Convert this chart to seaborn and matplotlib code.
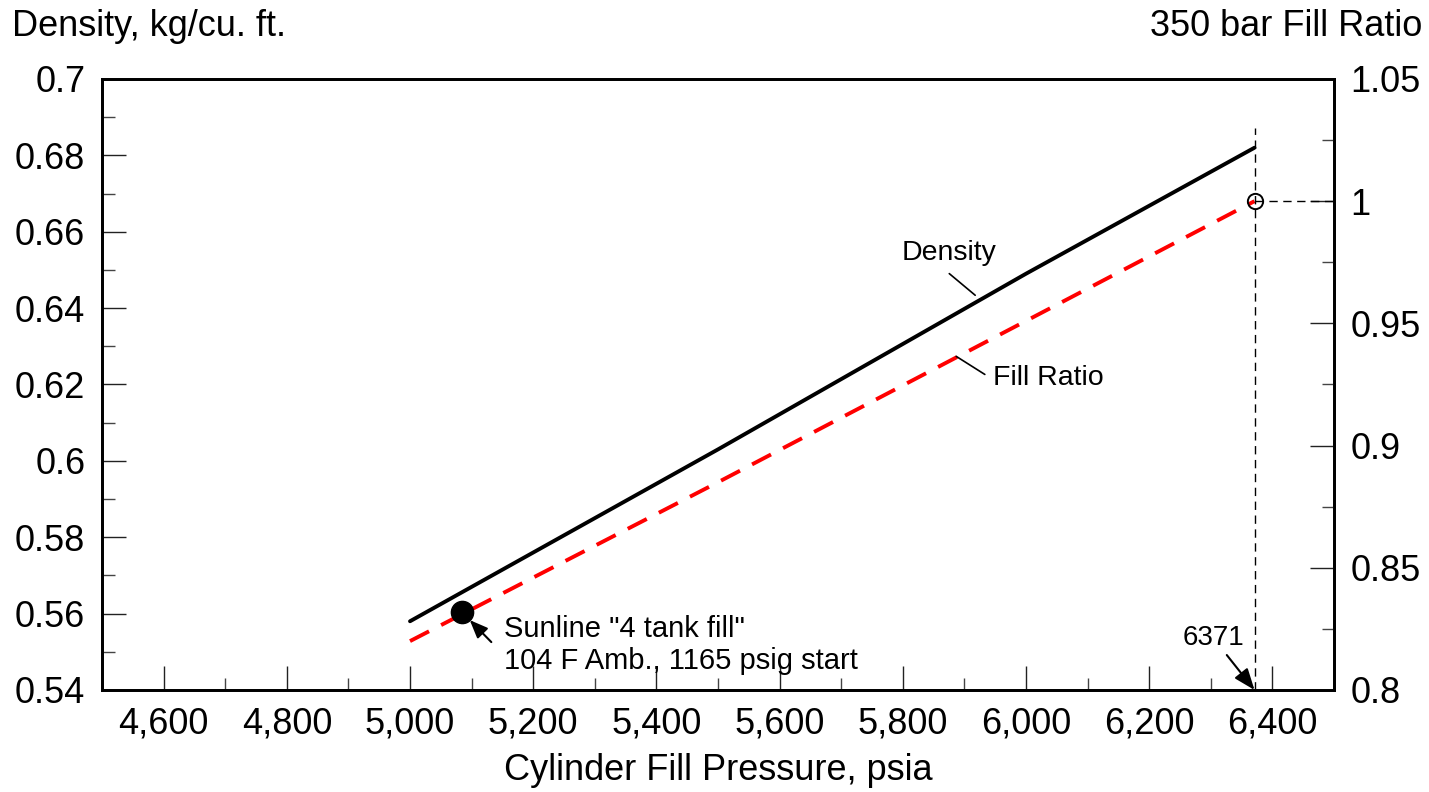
"""Cylinder fill density and fill ratio versus fill pressure."""

import matplotlib
matplotlib.use("Agg")
import matplotlib.pyplot as plt
from matplotlib.ticker import FuncFormatter, MultipleLocator
import pandas as pd
import seaborn as sns

# Data
pressure = [5000, 5500, 6000, 6371]
density = [0.558, 0.603, 0.649, 0.682]
fill_ratio = [0.820, 0.885, 0.951, 1.000]

sunline_pressure = [5085]
sunline_ratio = [0.832]

target_pressure = 6371
target_ratio = 1.0

x_ticks = [4600, 4800, 5000, 5200, 5400, 5600, 5800, 6000, 6200, 6400]
left_ticks = [0.54, 0.56, 0.58, 0.6, 0.62, 0.64, 0.66, 0.68, 0.7]
right_ticks = [0.8, 0.85, 0.9, 0.95, 1.0, 1.05]


def short_number(value: float, _: int) -> str:
  """Format without trailing zeros."""
  return f"{value:g}"


def thousands(value: float, _: int) -> str:
  """Format with thousands separator."""
  return f"{value:,.0f}"


sns.set_style("white")
plt.rcParams["font.family"] = ["Liberation Sans", "DejaVu Sans"]
plt.rcParams["text.color"] = "black"
plt.rcParams["axes.labelcolor"] = "black"
plt.rcParams["xtick.color"] = "black"
plt.rcParams["ytick.color"] = "black"

frame = pd.DataFrame({
  "pressure": pressure,
  "density": density,
  "fill_ratio": fill_ratio,
})

fig = plt.figure(figsize=(14.29, 7.92), dpi=100)
ax = fig.add_axes([0.0714, 0.1288, 0.8621, 0.7715])
ax2 = ax.twinx()

sns.lineplot(frame, x="pressure", y="density", color="black",
             linewidth=2.8, ax=ax)
sns.lineplot(frame, x="pressure", y="fill_ratio", color="#ff0000",
             linewidth=2.8, linestyle=(0, (5.5, 3.5)), ax=ax2)

# Sunline data point
ax2.plot(sunline_pressure, sunline_ratio, "o", color="black",
         markersize=16, zorder=5)

# Rated fill point with guide lines
ax2.plot([target_pressure], [target_ratio], "o", markersize=11,
         markerfacecolor="none", markeredgecolor="black",
         markeredgewidth=1.4, zorder=5)
ax2.plot([target_pressure, target_pressure], [0.8, 1.03], color="black",
         linewidth=1, linestyle=(0, (6, 4)))
ax2.plot([target_pressure, 6500], [target_ratio, target_ratio],
         color="black", linewidth=1, linestyle=(0, (6, 4)))

# Axis limits and ticks
ax.set_xlim(4500, 6500)
ax.set_ylim(0.54, 0.7)
ax2.set_ylim(0.8, 1.05)
ax.set_xticks(x_ticks)
ax.set_yticks(left_ticks)
ax2.set_yticks(right_ticks)
ax.xaxis.set_minor_locator(MultipleLocator(100))
ax.yaxis.set_minor_locator(MultipleLocator(0.01))
ax2.yaxis.set_minor_locator(MultipleLocator(0.025))
ax.xaxis.set_major_formatter(FuncFormatter(thousands))
ax.yaxis.set_major_formatter(FuncFormatter(short_number))
ax2.yaxis.set_major_formatter(FuncFormatter(short_number))

for axis in (ax, ax2):
  axis.tick_params(which="major", direction="in", length=17, width=1,
                   labelsize=26, pad=12, color="#222222")
  axis.tick_params(which="minor", direction="in", length=9, width=1,
                   color="#444444")
  for spine in axis.spines.values():
    spine.set_linewidth(2)
    spine.set_color("black")
ax.tick_params(axis="y", which="both", left=True, right=False)
ax.tick_params(axis="x", which="both", bottom=True, top=False, pad=12)
ax2.tick_params(axis="y", which="both", right=True, left=False)

ax.set_xlabel("Cylinder Fill Pressure, psia", fontsize=26, labelpad=8)
ax.set_ylabel("")
ax2.set_ylabel("")

fig.text(0.0084, 0.966, "Density, kg/cu. ft.", fontsize=26,
         ha="left", va="center")
fig.text(0.9951, 0.966, "350 bar Fill Ratio", fontsize=26,
         ha="right", va="center")

# Line labels with leader lines
ax.text(5875, 0.6544, "Density", fontsize=20.5, ha="center", va="center")
ax.annotate("", xy=(5921, 0.6429), xytext=(5872, 0.6495),
            arrowprops={"arrowstyle": "-", "color": "black", "lw": 1.2})
ax2.text(6037, 0.9277, "Fill Ratio", fontsize=20.5, ha="center",
         va="center")
ax2.annotate("", xy=(5883, 0.9371), xytext=(5937, 0.9285),
             arrowprops={"arrowstyle": "-", "color": "black", "lw": 1.2})

# Sunline note
ax2.text(5153, 0.8184, 'Sunline "4 tank fill"\n104 F Amb., 1165 psig start',
         fontsize=21, ha="left", va="center", linespacing=1.2)
ax2.annotate("", xy=(5097, 0.8286), xytext=(5132, 0.8196),
             arrowprops={"arrowstyle": "-|>,head_length=1.1,head_width=0.45",
                         "color": "black", "lw": 1.5, "shrinkA": 0,
                         "shrinkB": 0})

# Fill pressure callout
ax2.text(6305, 0.8213, "6371", fontsize=20, ha="center", va="center")
ax2.annotate("", xy=(target_pressure, 0.8), xytext=(6326, 0.8143),
             arrowprops={"arrowstyle": "-|>,head_length=1.3,head_width=0.5",
                         "color": "black", "lw": 1.5, "shrinkA": 0,
                         "shrinkB": 0})

fig.savefig("out.png", dpi=100, facecolor="white")
